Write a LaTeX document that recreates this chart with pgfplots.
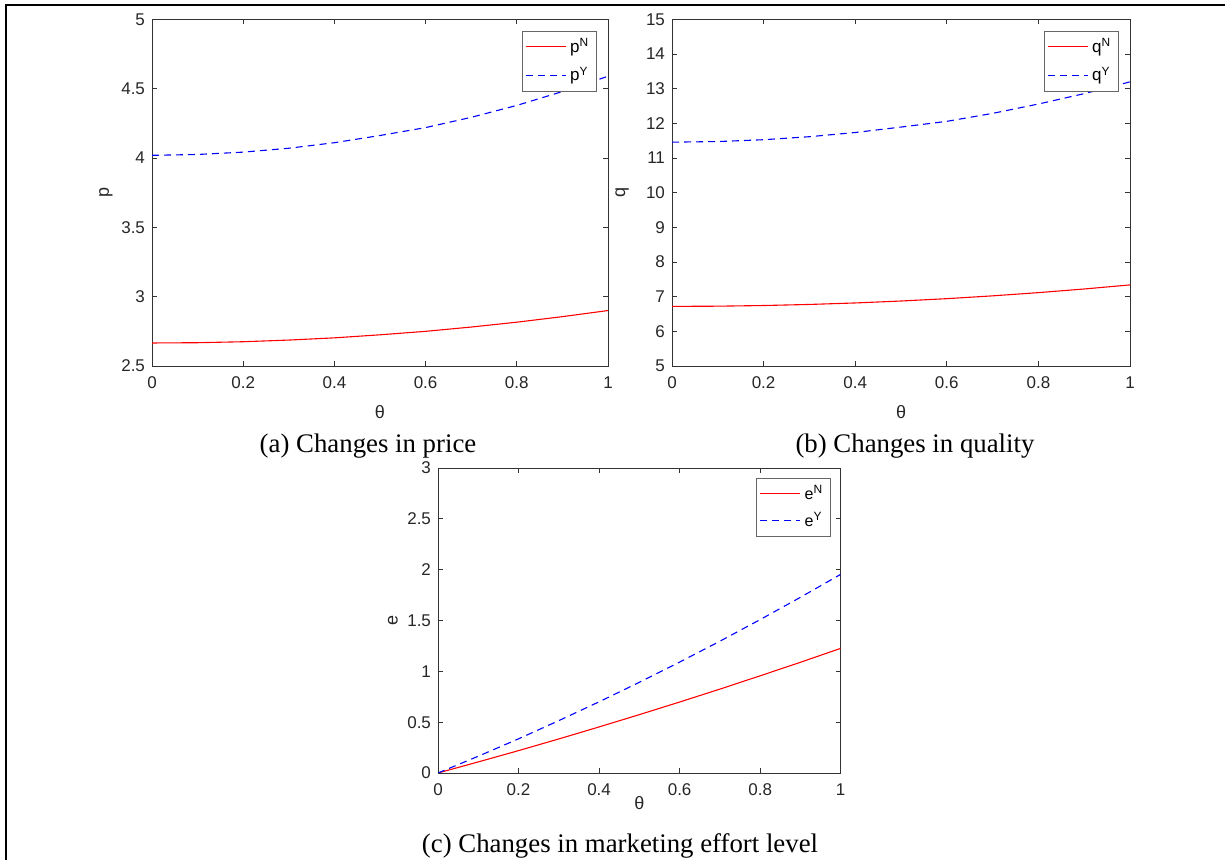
\documentclass[border=0pt]{standalone}
\usepackage{fontspec}
\setmainfont{Liberation Sans}
\newfontfamily\capfont{Liberation Serif}
\usepackage{pgfplots}
\pgfplotsset{compat=1.18}
\pgfplotstableread{
t    pN     pY     qN     qY      eN     eY
0.0  2.666  4.020  6.720  11.460  0.000  0.000
0.1  2.668  4.026  6.726  11.477  0.109  0.165
0.2  2.675  4.043  6.745  11.530  0.220  0.336
0.3  2.687  4.071  6.776  11.617  0.335  0.515
0.4  2.703  4.111  6.819  11.738  0.453  0.700
0.5  2.725  4.163  6.875  11.895  0.574  0.892
0.6  2.750  4.220  6.943  12.060  0.698  1.091
0.7  2.781  4.294  7.024  12.290  0.825  1.296
0.8  2.816  4.380  7.117  12.560  0.956  1.509
0.9  2.856  4.480  7.222  12.860  1.089  1.728
1.0  2.900  4.590  7.340  13.200  1.226  1.954
}\datatable
\definecolor{mred}{RGB}{255,0,0}
\definecolor{mblue}{RGB}{0,0,255}
\pgfplotsset{
  mystyle/.style={
    scale only axis,
    anchor=south west,
    xmin=0,xmax=1,
    xtick={0,0.2,0.4,0.6,0.8,1},
    tick align=inside,
    major tick length=2.5pt,
    axis line style={black!80, line width=0.4pt},
    every tick/.style={black!80, line width=0.4pt},
    tick label style={font=\fontsize{8.5}{10}\selectfont, text=black!85},
    xticklabel style={yshift=-2pt},
    /pgf/number format/assume math mode=true,
    label style={font=\fontsize{9}{10}\selectfont, text=black!85},
    ylabel style={anchor=center},
    xlabel style={anchor=center},
    legend style={draw=black!60, fill=white, font=\fontsize{8.5}{10}\selectfont, anchor=north east, inner sep=1.5pt, row sep=2pt},
    legend cell align=left,
    legend image code/.code={\draw[##1] plot coordinates {(0pt,0pt) (10pt,0pt) (20pt,0pt)};},
  },
  redl/.style={color=mred, line width=0.55pt},
  bluel/.style={color=mblue, line width=0.55pt, dash pattern=on 3.5pt off 2.5pt},
}
\newcommand{\supx}[2]{#1\textsuperscript{#2}}
\begin{document}
\begin{tikzpicture}
\useasboundingbox (0,0) rectangle (612.5pt,430pt);
\draw[line width=1pt] (2.5pt,427.5pt) -- (612.5pt,427.5pt);
\draw[line width=1pt] (3pt,428pt) -- (3pt,0pt);

\begin{axis}[mystyle, at={(76pt,247pt)}, width=228pt, height=173.25pt,
  ymin=2.5, ymax=5, ytick={2.5,3,3.5,4,4.5,5},
  xlabel={θ}, ylabel={p},
  xlabel style={at={(axis description cs:0.5,-0.133)}},
  ylabel style={at={(axis description cs:-0.101,0.5)}},
  legend style={at={(0.975,0.967)}}]
\addplot[redl] table[x=t,y=pN]{\datatable};
\addlegendentry{\supx{p}{N}}
\addplot[bluel] table[x=t,y=pY]{\datatable};
\addlegendentry{\supx{p}{Y}}
\end{axis}

\begin{axis}[mystyle, at={(336pt,247pt)}, width=229pt, height=173.25pt,
  ymin=5, ymax=15, ytick={5,6,...,15},
  xlabel={θ}, ylabel={q},
  xlabel style={at={(axis description cs:0.5,-0.133)}},
  ylabel style={at={(axis description cs:-0.109,0.5)}},
  legend style={at={(0.975,0.967)}}]
\addplot[redl] table[x=t,y=qN]{\datatable};
\addlegendentry{\supx{q}{N}}
\addplot[bluel] table[x=t,y=qY]{\datatable};
\addlegendentry{\supx{q}{Y}}
\end{axis}

\begin{axis}[mystyle, at={(219pt,43.5pt)}, width=201.35pt, height=152.5pt,
  ymin=0, ymax=3, ytick={0,0.5,1,1.5,2,2.5,3},
  xlabel={θ}, ylabel={e},
  xlabel style={at={(axis description cs:0.5,-0.1)}},
  ylabel style={at={(axis description cs:-0.112,0.5)}},
  legend style={at={(0.975,0.967)}, font=\fontsize{8}{9}\selectfont, row sep=1pt}]
\addplot[redl] table[x=t,y=eN]{\datatable};
\addlegendentry{\supx{e}{N}}
\addplot[bluel] table[x=t,y=eY]{\datatable};
\addlegendentry{\supx{e}{Y}}
\end{axis}

\node[font=\capfont\fontsize{13.4}{15}\selectfont] at (184pt,207pt) {(a) Changes in price};
\node[font=\capfont\fontsize{13.4}{15}\selectfont] at (457.5pt,207pt) {(b) Changes in quality};
\node[font=\capfont\fontsize{13.4}{15}\selectfont] at (310pt,7pt) {(c) Changes in marketing effort level};
\end{tikzpicture}
\end{document}
